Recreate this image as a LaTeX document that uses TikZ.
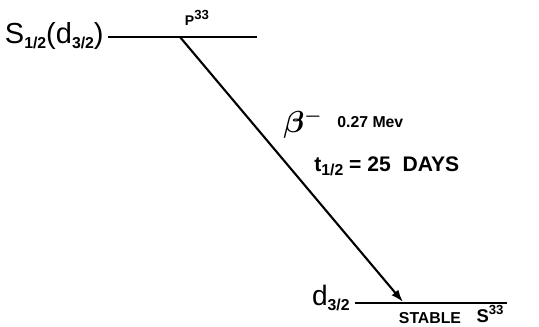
\documentclass[tikz,border=0pt]{standalone}
\usepackage{fontspec}
\setmainfont{Liberation Sans}
\usetikzlibrary{arrows.meta}
\newcommand{\lowsub}[1]{\raisebox{-0.35ex}{\fontsize{9}{9}\bfseries\selectfont #1}}
\newcommand{\highsup}[1]{\raisebox{0.9ex}{\fontsize{7.5}{7.5}\bfseries\selectfont #1}}
\begin{document}
\begin{tikzpicture}[x=0.02cm,y=-0.02cm,
  level/.style={line width=1.5pt},
  trans/.style={line width=1.2pt,-{Latex[length=7pt,width=5pt]}},
  lbl/.style={inner sep=0pt,font=\bfseries}]
\useasboundingbox (0,0) rectangle (539,326);
\coordinate (t1) at (108,37);
\coordinate (t2) at (257,37);
\coordinate (b1) at (355,303);
\coordinate (b2) at (507,303);
\coordinate (src) at (180,37);
\coordinate (dst) at (403,302);
\draw[level] (t1) -- (t2);
\draw[level] (b1) -- (b2);
\draw[trans] (src) -- (dst);
\node[lbl,font=\fontsize{16.5}{16.5}\selectfont,anchor=east] (lt) at (104,36) {S\lowsub{1/2}(d\lowsub{3/2})};
\node[lbl,font=\fontsize{8}{8}\bfseries\selectfont] (p33) at (197,18) {P\highsup{33}};
\node[lbl,font=\fontsize{16}{16}\selectfont,anchor=east] (lb) at (350,298) {d\lowsub{3/2}};
\node[lbl,font=\fontsize{9}{9}\bfseries\selectfont] (st) at (430,318) {STABLE};
\node[lbl,font=\fontsize{10.5}{10.5}\bfseries\selectfont] (s33) at (490,314) {S\highsup{33}};
\node[lbl,font=\fontsize{16}{16}\selectfont\mathversion{bold}] (beta) at (303,124) {$\beta^{-}$};
\node[lbl,font=\fontsize{9}{9}\bfseries\selectfont,anchor=west] (en) at (337,122) {0.27 Mev};
\node[lbl,font=\fontsize{12}{12}\bfseries\selectfont,anchor=west] (hl) at (314,166) {t\lowsub{1/2} = 25 \ DAYS};
\end{tikzpicture}
\end{document}
